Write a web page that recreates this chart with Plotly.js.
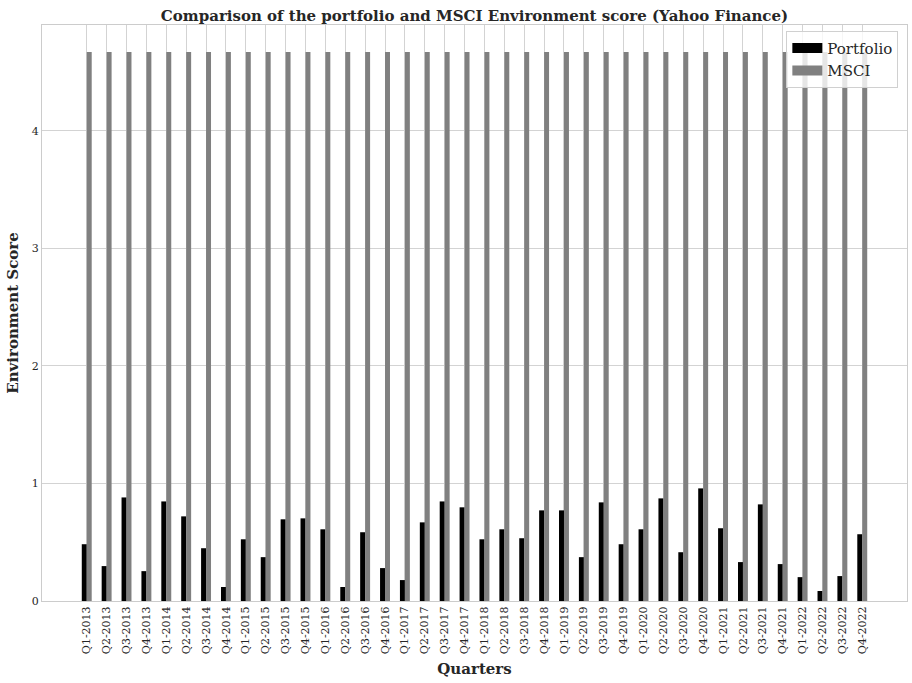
<!DOCTYPE html>
<html>
<head>
<meta charset="utf-8">
<script src="https://cdn.plot.ly/plotly-3.0.1.min.js"></script>
<style>html,body{margin:0;padding:0;background:#fff;}#chart{width:912px;height:683px;}</style>
</head>
<body>
<div id="chart"></div>
<script>
const quarters = ["Q1-2013","Q2-2013","Q3-2013","Q4-2013","Q1-2014","Q2-2014","Q3-2014","Q4-2014",
"Q1-2015","Q2-2015","Q3-2015","Q4-2015","Q1-2016","Q2-2016","Q3-2016","Q4-2016",
"Q1-2017","Q2-2017","Q3-2017","Q4-2017","Q1-2018","Q2-2018","Q3-2018","Q4-2018",
"Q1-2019","Q2-2019","Q3-2019","Q4-2019","Q1-2020","Q2-2020","Q3-2020","Q4-2020",
"Q1-2021","Q2-2021","Q3-2021","Q4-2021","Q1-2022","Q2-2022","Q3-2022","Q4-2022"];
const portfolio = [0.483,0.297,0.881,0.254,0.847,0.720,0.449,0.119,
0.525,0.373,0.695,0.703,0.610,0.119,0.585,0.280,
0.178,0.669,0.847,0.797,0.525,0.610,0.534,0.771,
0.771,0.373,0.839,0.483,0.610,0.873,0.415,0.958,
0.619,0.331,0.822,0.314,0.203,0.085,0.212,0.568];
const msci = quarters.map(() => 4.67);
const seriesNames = ["Portfolio","MSCI"];
const seriesColors = ["#000000","#808080"];

const font = "DejaVu Serif, serif";
const traces = [
  {type:"bar", name:seriesNames[0], x:quarters, y:portfolio, marker:{color:seriesColors[0]}, width:0.25, offset:-0.25, showlegend:false},
  {type:"bar", name:seriesNames[1], x:quarters, y:msci, marker:{color:seriesColors[1]}, width:0.25, offset:0, showlegend:false},
  {type:"scatter", mode:"lines", name:seriesNames[0], x:[null], y:[null], line:{color:seriesColors[0], width:10}},
  {type:"scatter", mode:"lines", name:seriesNames[1], x:[null], y:[null], line:{color:seriesColors[1], width:10}}
];
const layout = {
  width:912, height:683,
  margin:{l:42, r:5, t:25, b:82},
  paper_bgcolor:"#fff", plot_bgcolor:"#fff",
  font:{family:font, color:"#262626", size:11},
  title:{text:"<b>Comparison of the portfolio and MSCI Environment score (Yahoo Finance)</b>", x:0.5, xref:"paper", y:0.985, yref:"container", yanchor:"top", font:{family:font, size:15, color:"#262626"}},
  barmode:"overlay",
  showlegend:true,
  legend:{x:0.99, xanchor:"right", y:0.99, yanchor:"top", bgcolor:"rgba(255,255,255,0.8)", bordercolor:"#d0d0d0", borderwidth:1, font:{family:font, size:15, color:"#262626"}, traceorder:"normal", itemwidth:30, tracegroupgap:0},
  xaxis:{type:"category", range:[-2.25,41.25], tickangle:-90, showgrid:true, gridcolor:"#d3d3d3", gridwidth:1,
    showline:true, linecolor:"#cccccc", mirror:true, ticks:"", tickfont:{family:font, size:11, color:"#262626"},
    title:{text:"<b>Quarters</b>", font:{family:font, size:15, color:"#262626"}, standoff:10}},
  yaxis:{range:[0,4.9], tickvals:[0,1,2,3,4], ticktext:["0","1","2","3","4"], showgrid:true, gridcolor:"#d3d3d3", zeroline:false,
    showline:true, linecolor:"#cccccc", mirror:true, ticks:"", tickfont:{family:font, size:11, color:"#262626"},
    title:{text:"<b>Environment Score</b>", font:{family:font, size:15, color:"#262626"}, standoff:9}}
};
Plotly.newPlot("chart", traces, layout, {displayModeBar:false, staticPlot:true});
</script>
</body>
</html>
